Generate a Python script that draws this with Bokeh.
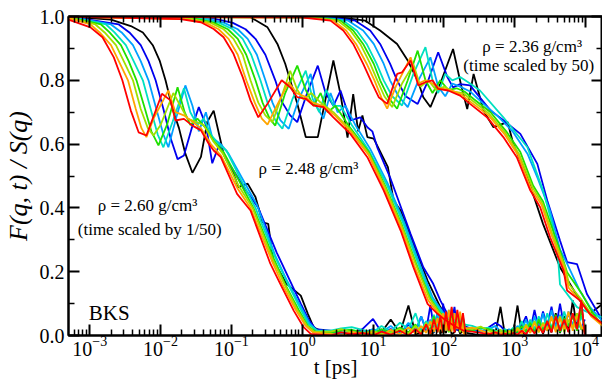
from bokeh.plotting import figure
from bokeh.models import LogAxis, LinearAxis, FixedTicker, Label, PrintfTickFormatter, CustomJSTickFormatter
from bokeh.embed import file_html
from bokeh.resources import INLINE

# ---------------- data: log10(t / ps) and F(q,t)/S(q) ----------------
colors = ["#000000", "#0000ee", "#00a0ff", "#00e0c0", "#20e000", "#a0e000", "#ffa500", "#ff0000"]

# rho = 2.60 g/cm3 (time scaled by 1/50)
g1_k_lgt = [-3.30, -2.70, -2.42, -2.25, -2.11, -2.01, -1.93, -1.83, -1.74, -1.65, -1.55, -1.43, -1.34, -1.25, -1.11, -0.97, -0.90, -0.77, -0.66, -0.56, -0.48, -0.41, -0.22, -0.02, 0.08, 0.16, 0.30]
g1_k_F = [1.000, 0.990, 0.970, 0.950, 0.910, 0.860, 0.800, 0.710, 0.650, 0.570, 0.510, 0.560, 0.670, 0.705, 0.569, 0.507, 0.465, 0.476, 0.434, 0.355, 0.350, 0.235, 0.162, 0.125, 0.068, 0.026, 0.010]
g1_b_lgt = [-3.30, -2.59, -2.44, -2.28, -2.17, -2.07, -1.96, -1.86, -1.76, -1.67, -1.56, -1.46, -1.36, -1.27, -1.17, -1.07, -0.95, -0.81, -0.62, -0.36, -0.19, -0.02, 0.09, 0.19]
g1_b_F = [1.0, 0.975, 0.95, 0.91, 0.86, 0.80, 0.71, 0.62, 0.553, 0.564, 0.65, 0.716, 0.66, 0.54, 0.60, 0.55, 0.51, 0.46, 0.40, 0.26, 0.18, 0.10, 0.05, 0.02]
g1_lb_lgt = [-3.30, -2.70, -2.55, -2.39, -2.28, -2.17, -2.06, -1.96, -1.89, -1.77, -1.65, -1.55, -1.46, -1.36, -1.27, -1.15, -1.04, -0.84, -0.64, -0.38, -0.21, -0.02, 0.10, 0.20]
g1_lb_F = [1.0, 0.975, 0.95, 0.91, 0.86, 0.80, 0.71, 0.63, 0.59, 0.69, 0.784, 0.72, 0.64, 0.70, 0.62, 0.60, 0.57, 0.49, 0.41, 0.25, 0.17, 0.09, 0.04, 0.015]
g1_tq_lgt = [-3.30, -2.77, -2.65, -2.49, -2.38, -2.25, -2.14, -2.04, -1.96, -1.83, -1.67, -1.58, -1.48, -1.39, -1.29, -1.18, -1.07, -0.87, -0.66, -0.39, -0.22, -0.04, 0.09, 0.22]
g1_tq_F = [0.999, 0.975, 0.95, 0.91, 0.86, 0.80, 0.71, 0.63, 0.59, 0.67, 0.775, 0.70, 0.66, 0.68, 0.63, 0.60, 0.58, 0.49, 0.40, 0.25, 0.17, 0.09, 0.035, 0.015]
g1_g_lgt = [-3.30, -2.84, -2.72, -2.56, -2.45, -2.34, -2.22, -2.13, -2.03, -1.91, -1.76, -1.66, -1.58, -1.48, -1.36, -1.25, -1.11, -0.88, -0.69, -0.40, -0.24, -0.05, 0.08, 0.20]
g1_g_F = [0.998, 0.975, 0.95, 0.91, 0.86, 0.80, 0.71, 0.64, 0.596, 0.66, 0.778, 0.70, 0.66, 0.68, 0.65, 0.61, 0.575, 0.48, 0.40, 0.24, 0.16, 0.08, 0.03, 0.01]
g1_yg_lgt = [-3.30, -2.92, -2.79, -2.63, -2.52, -2.39, -2.28, -2.18, -2.10, -2.00, -1.82, -1.72, -1.62, -1.50, -1.39, -1.26, -1.12, -0.90, -0.70, -0.42, -0.25, -0.07, 0.07, 0.17]
g1_yg_F = [0.997, 0.975, 0.95, 0.91, 0.86, 0.80, 0.71, 0.65, 0.627, 0.66, 0.76, 0.72, 0.68, 0.67, 0.66, 0.61, 0.57, 0.47, 0.40, 0.24, 0.16, 0.08, 0.03, 0.012]
g1_o_lgt = [-3.30, -2.99, -2.86, -2.70, -2.59, -2.46, -2.35, -2.27, -2.20, -2.10, -1.89, -1.79, -1.67, -1.55, -1.43, -1.29, -1.15, -0.91, -0.73, -0.43, -0.28, -0.09, 0.05, 0.15]
g1_o_F = [0.995, 0.975, 0.95, 0.91, 0.86, 0.80, 0.71, 0.65, 0.622, 0.68, 0.768, 0.70, 0.69, 0.67, 0.65, 0.60, 0.565, 0.46, 0.40, 0.235, 0.16, 0.08, 0.03, 0.01]
g1_r_lgt = [-3.30, -2.99, -2.82, -2.66, -2.54, -2.42, -2.31, -2.20, -1.98, -1.86, -1.79, -1.67, -1.55, -1.43, -1.32, -1.25, -1.15, -0.92, -0.73, -0.45, -0.31, -0.12, 0.02, 0.12]
g1_r_F = [0.990, 0.966, 0.935, 0.872, 0.800, 0.705, 0.637, 0.627, 0.758, 0.737, 0.674, 0.679, 0.658, 0.643, 0.601, 0.580, 0.559, 0.444, 0.392, 0.225, 0.162, 0.078, 0.026, 0.005]

g1_tail_lgt = [0.40, 0.55, 0.70, 0.85, 1.00, 1.12, 1.25, 1.38, 1.50, 1.60, 1.68, 1.75, 1.81, 1.86, 1.91, 1.95, 1.99, 2.03, 2.07, 2.11, 2.15, 2.19, 2.23, 2.27, 2.31]
g1_tail_k = [0.010, 0.004, 0.000, 0.006, 0.002, 0.010, 0.050, 0.008, 0.094, 0.004, 0.010, 0.030, 0.005, 0.010, 0.060, 0.005, 0.020, 0.008, 0.050, 0.004, 0.010, 0.030, 0.006, 0.015, 0.000]
g1_tail_b = [0.015, 0.010, 0.005, 0.020, 0.052, 0.010, 0.020, 0.005, 0.035, 0.010, 0.060, 0.015, 0.095, 0.020, 0.070, 0.030, 0.100, 0.020, 0.060, 0.040, 0.090, 0.015, 0.050, 0.025, 0.005]
g1_tail_lb = [0.010, 0.005, 0.015, 0.008, 0.020, 0.010, 0.030, 0.005, 0.040, 0.015, 0.060, 0.020, 0.050, 0.010, 0.075, 0.025, 0.065, 0.015, 0.080, 0.020, 0.070, 0.030, 0.060, 0.020, 0.005]
g1_tail_tq = [0.015, 0.022, 0.026, 0.018, 0.010, 0.030, 0.012, 0.040, 0.020, 0.070, 0.015, 0.045, 0.030, 0.065, 0.020, 0.080, 0.025, 0.060, 0.015, 0.085, 0.030, 0.050, 0.020, 0.060, 0.010]
g1_tail_g = [0.008, 0.015, 0.018, 0.010, 0.005, 0.020, 0.008, 0.025, 0.010, 0.035, 0.005, 0.030, 0.020, 0.060, 0.010, 0.045, 0.025, 0.050, 0.010, 0.070, 0.015, 0.040, 0.030, 0.055, 0.010]
g1_tail_yg = [0.012, 0.020, 0.010, 0.006, 0.015, 0.004, 0.010, 0.020, 0.006, 0.030, 0.010, 0.040, 0.005, 0.045, 0.015, 0.050, 0.008, 0.060, 0.012, 0.055, 0.020, 0.065, 0.010, 0.040, 0.005]
g1_tail_o = [0.005, 0.000, 0.012, 0.004, 0.010, 0.000, 0.018, 0.004, 0.025, 0.006, 0.030, 0.008, 0.045, 0.012, 0.055, 0.010, 0.070, 0.015, 0.080, 0.012, 0.070, 0.020, 0.075, 0.010, 0.000]
g1_tail_r = [0.000, 0.010, 0.004, 0.008, 0.000, 0.012, 0.003, 0.015, 0.000, 0.020, 0.004, 0.035, 0.006, 0.050, 0.010, 0.060, 0.008, 0.075, 0.015, 0.090, 0.010, 0.080, 0.020, 0.070, 0.000]

# rho = 2.48 g/cm3
g2_k_lgt = [-3.30, -0.73, -0.49, -0.35, -0.24, -0.17, -0.07, 0.05, 0.22, 0.44, 0.54, 0.64, 0.72, 0.79, 0.85, 0.92, 1.01, 1.21, 1.29, 1.39, 1.57, 1.77, 1.95, 2.05]
g2_k_F = [1.0, 0.998, 0.966, 0.914, 0.852, 0.80, 0.727, 0.622, 0.622, 0.862, 0.757, 0.62, 0.757, 0.64, 0.69, 0.622, 0.617, 0.528, 0.423, 0.392, 0.287, 0.172, 0.089, 0.057]
g2_b_lgt = [-3.30, -1.29, -0.98, -0.80, -0.66, -0.52, -0.38, -0.28, -0.17, -0.07, 0.07, 0.22, 0.33, 0.44, 0.54, 0.68, 0.82, 0.92, 0.99, 1.06, 1.24, 1.53, 1.71, 1.85, 1.95, 2.05]
g2_b_F = [1.0, 0.996, 0.98, 0.96, 0.93, 0.88, 0.80, 0.73, 0.69, 0.669, 0.76, 0.846, 0.76, 0.72, 0.768, 0.674, 0.684, 0.653, 0.64, 0.59, 0.496, 0.319, 0.214, 0.162, 0.11, 0.068]
g2_lb_lgt = [-3.30, -1.39, -1.10, -0.91, -0.77, -0.64, -0.52, -0.42, -0.31, -0.19, -0.05, 0.12, 0.20, 0.30, 0.40, 0.50, 0.61, 0.75, 0.96, 1.20, 1.44, 1.64, 1.84, 1.98, 2.08]
g2_lb_F = [1.0, 0.996, 0.98, 0.96, 0.93, 0.88, 0.80, 0.73, 0.675, 0.648, 0.74, 0.82, 0.72, 0.68, 0.76, 0.70, 0.72, 0.66, 0.585, 0.48, 0.355, 0.235, 0.12, 0.075, 0.05]
g2_tq_lgt = [-3.30, -1.46, -1.17, -0.98, -0.84, -0.72, -0.59, -0.49, -0.38, -0.28, -0.14, 0.05, 0.15, 0.24, 0.34, 0.44, 0.54, 0.70, 0.94, 1.19, 1.43, 1.63, 1.82, 1.96, 2.06]
g2_tq_F = [1.0, 0.995, 0.98, 0.96, 0.93, 0.88, 0.80, 0.73, 0.675, 0.648, 0.74, 0.83, 0.74, 0.70, 0.77, 0.72, 0.72, 0.66, 0.58, 0.475, 0.35, 0.23, 0.12, 0.075, 0.05]
g2_g_lgt = [-3.30, -1.53, -1.24, -1.05, -0.91, -0.79, -0.66, -0.56, -0.46, -0.38, -0.24, -0.07, 0.05, 0.16, 0.26, 0.36, 0.47, 0.68, 0.94, 1.17, 1.41, 1.61, 1.81, 1.95, 2.05]
g2_g_F = [1.0, 0.994, 0.98, 0.96, 0.93, 0.88, 0.80, 0.73, 0.68, 0.658, 0.76, 0.846, 0.77, 0.72, 0.76, 0.70, 0.72, 0.65, 0.575, 0.47, 0.345, 0.225, 0.115, 0.07, 0.05]
g2_yg_lgt = [-3.30, -1.58, -1.29, -1.11, -0.97, -0.84, -0.73, -0.62, -0.52, -0.42, -0.29, -0.17, -0.07, 0.02, 0.13, 0.26, 0.44, 0.68, 0.94, 1.17, 1.41, 1.60, 1.80, 1.94, 2.04]
g2_yg_F = [1.0, 0.993, 0.98, 0.96, 0.93, 0.88, 0.80, 0.73, 0.69, 0.669, 0.75, 0.83, 0.77, 0.74, 0.76, 0.73, 0.70, 0.645, 0.57, 0.465, 0.34, 0.225, 0.115, 0.07, 0.05]
g2_o_lgt = [-3.30, -1.65, -1.36, -1.18, -1.04, -0.91, -0.79, -0.67, -0.57, -0.49, -0.36, -0.19, -0.08, 0.03, 0.15, 0.29, 0.46, 0.70, 0.94, 1.16, 1.40, 1.58, 1.78, 1.92, 2.02]
g2_o_F = [1.0, 0.992, 0.98, 0.96, 0.93, 0.88, 0.80, 0.73, 0.68, 0.661, 0.72, 0.794, 0.76, 0.75, 0.73, 0.72, 0.69, 0.635, 0.565, 0.46, 0.335, 0.22, 0.11, 0.07, 0.05]
g2_r_lgt = [-3.30, -1.72, -1.43, -1.25, -1.11, -0.97, -0.84, -0.73, -0.62, -0.48, -0.29, -0.17, -0.07, 0.05, 0.16, 0.30, 0.44, 0.68, 0.92, 1.15, 1.39, 1.57, 1.77, 1.91, 2.00]
g2_r_F = [1.0, 0.992, 0.982, 0.961, 0.935, 0.883, 0.81, 0.737, 0.684, 0.73, 0.80, 0.778, 0.747, 0.742, 0.721, 0.716, 0.684, 0.632, 0.559, 0.455, 0.329, 0.214, 0.099, 0.068, 0.052]

g2_tail_lgt = [2.15, 2.28, 2.40, 2.52, 2.63, 2.73, 2.80, 2.86, 2.92, 2.98, 3.04, 3.10, 3.16, 3.22, 3.28, 3.34, 3.40, 3.46, 3.52, 3.58, 3.64, 3.70, 3.76, 3.82, 3.88, 3.94, 3.99]
g2_tail_k = [0.045, 0.010, 0.005, 0.000, 0.002, 0.010, 0.090, 0.005, 0.000, 0.010, 0.094, 0.008, 0.004, 0.030, 0.010, 0.050, 0.005, 0.040, 0.010, 0.070, 0.008, 0.060, 0.012, 0.110, 0.020, 0.100, 0.010]
g2_tail_b = [0.050, 0.030, 0.020, 0.010, 0.025, 0.040, 0.030, 0.015, 0.005, 0.015, 0.010, 0.030, 0.060, 0.015, 0.080, 0.020, 0.075, 0.030, 0.090, 0.020, 0.100, 0.025, 0.070, 0.030, 0.060, 0.020, 0.050]
g2_tail_lb = [0.040, 0.025, 0.015, 0.010, 0.020, 0.030, 0.012, 0.008, 0.020, 0.010, 0.030, 0.015, 0.050, 0.010, 0.060, 0.020, 0.070, 0.015, 0.080, 0.025, 0.065, 0.020, 0.075, 0.030, 0.050, 0.020, 0.040]
g2_tail_tq = [0.045, 0.035, 0.030, 0.020, 0.025, 0.015, 0.010, 0.020, 0.012, 0.025, 0.015, 0.045, 0.010, 0.050, 0.020, 0.060, 0.015, 0.070, 0.025, 0.055, 0.020, 0.075, 0.030, 0.065, 0.020, 0.060, 0.030]
g2_tail_g = [0.040, 0.020, 0.015, 0.025, 0.020, 0.012, 0.008, 0.015, 0.005, 0.020, 0.010, 0.030, 0.012, 0.040, 0.008, 0.050, 0.015, 0.045, 0.020, 0.065, 0.010, 0.055, 0.030, 0.060, 0.015, 0.080, 0.020]
g2_tail_yg = [0.030, 0.025, 0.020, 0.028, 0.015, 0.010, 0.018, 0.006, 0.015, 0.010, 0.025, 0.008, 0.035, 0.012, 0.045, 0.010, 0.040, 0.020, 0.055, 0.015, 0.060, 0.010, 0.050, 0.025, 0.070, 0.020, 0.015]
g2_tail_o = [0.035, 0.020, 0.025, 0.015, 0.008, 0.005, 0.010, 0.004, 0.012, 0.006, 0.020, 0.005, 0.030, 0.008, 0.040, 0.012, 0.035, 0.015, 0.060, 0.010, 0.055, 0.020, 0.075, 0.015, 0.060, 0.030, 0.010]
g2_tail_r = [0.030, 0.015, 0.012, 0.008, 0.004, 0.010, 0.002, 0.006, 0.000, 0.008, 0.003, 0.015, 0.004, 0.025, 0.006, 0.030, 0.008, 0.045, 0.010, 0.060, 0.015, 0.050, 0.010, 0.070, 0.020, 0.110, 0.000]

# rho = 2.36 g/cm3 (time scaled by 50)
g3_k_lgt = [-3.30, 0.54, 0.89, 1.10, 1.34, 1.49, 1.63, 1.71, 1.81, 1.95, 2.13, 2.25, 2.33, 2.42, 2.56, 2.70, 2.90, 2.98, 3.18, 3.40, 3.64, 3.92, 4.06, 4.24]
g3_k_F = [1.0, 0.997, 0.987, 0.956, 0.914, 0.862, 0.80, 0.747, 0.716, 0.79, 0.898, 0.778, 0.710, 0.82, 0.705, 0.653, 0.669, 0.601, 0.496, 0.35, 0.214, 0.11, 0.068, 0.099]
g3_b_lgt = [-3.30, 0.40, 0.75, 0.96, 1.10, 1.24, 1.34, 1.46, 1.63, 1.78, 1.92, 2.05, 2.13, 2.23, 2.37, 2.66, 2.87, 3.08, 3.32, 3.46, 3.64, 3.74, 3.88, 4.02, 4.24]
g3_b_F = [1.0, 0.997, 0.987, 0.956, 0.914, 0.852, 0.80, 0.75, 0.726, 0.80, 0.888, 0.81, 0.778, 0.788, 0.784, 0.705, 0.67, 0.632, 0.538, 0.423, 0.298, 0.23, 0.224, 0.13, 0.047]
g3_lb_lgt = [-3.30, 0.30, 0.65, 0.86, 1.01, 1.15, 1.24, 1.36, 1.49, 1.64, 1.81, 1.92, 2.02, 2.12, 2.23, 2.37, 2.54, 2.75, 2.97, 3.18, 3.33, 3.50, 3.64, 3.73, 3.92, 4.06, 4.24]
g3_lb_F = [1.0, 0.997, 0.987, 0.956, 0.914, 0.852, 0.80, 0.75, 0.716, 0.80, 0.872, 0.78, 0.75, 0.79, 0.78, 0.765, 0.73, 0.69, 0.64, 0.57, 0.49, 0.39, 0.27, 0.23, 0.14, 0.09, 0.045]
g3_tq_lgt = [-3.30, 0.23, 0.58, 0.77, 0.91, 1.05, 1.15, 1.27, 1.41, 1.57, 1.74, 1.84, 1.92, 2.02, 2.12, 2.23, 2.37, 2.51, 2.84, 3.18, 3.40, 3.53, 3.61, 3.64, 3.88, 4.06, 4.24]
g3_tq_F = [1.0, 0.997, 0.987, 0.956, 0.914, 0.852, 0.80, 0.75, 0.721, 0.82, 0.904, 0.80, 0.76, 0.82, 0.80, 0.81, 0.79, 0.768, 0.684, 0.59, 0.455, 0.35, 0.25, 0.16, 0.089, 0.07, 0.057]
g3_g_lgt = [-3.30, 0.19, 0.54, 0.72, 0.86, 1.01, 1.10, 1.22, 1.34, 1.49, 1.63, 1.74, 1.84, 1.95, 2.06, 2.18, 2.29, 2.43, 2.66, 2.88, 3.08, 3.26, 3.40, 3.54, 3.68, 3.74, 3.95, 4.09, 4.24]
g3_g_F = [1.0, 0.997, 0.987, 0.956, 0.914, 0.852, 0.80, 0.745, 0.711, 0.80, 0.893, 0.80, 0.76, 0.80, 0.77, 0.775, 0.765, 0.74, 0.70, 0.64, 0.575, 0.47, 0.42, 0.33, 0.24, 0.198, 0.13, 0.075, 0.03]
g3_yg_lgt = [-3.30, 0.12, 0.50, 0.68, 0.82, 0.96, 1.06, 1.16, 1.27, 1.41, 1.57, 1.67, 1.78, 1.89, 2.01, 2.12, 2.27, 2.41, 2.64, 2.87, 3.06, 3.25, 3.39, 3.53, 3.71, 3.77, 3.95, 4.09, 4.24]
g3_yg_F = [1.0, 0.997, 0.987, 0.956, 0.914, 0.852, 0.80, 0.75, 0.716, 0.79, 0.85, 0.78, 0.80, 0.77, 0.78, 0.765, 0.76, 0.735, 0.695, 0.635, 0.57, 0.465, 0.415, 0.32, 0.215, 0.16, 0.11, 0.065, 0.035]
g3_o_lgt = [-3.30, 0.05, 0.44, 0.62, 0.76, 0.91, 1.02, 1.12, 1.20, 1.32, 1.53, 1.64, 1.74, 1.84, 1.95, 2.09, 2.25, 2.39, 2.63, 2.86, 3.05, 3.23, 3.38, 3.52, 3.70, 3.76, 3.94, 4.08, 4.24]
g3_o_F = [1.0, 0.997, 0.987, 0.956, 0.914, 0.852, 0.80, 0.745, 0.711, 0.78, 0.872, 0.79, 0.80, 0.79, 0.775, 0.77, 0.755, 0.73, 0.69, 0.63, 0.565, 0.46, 0.41, 0.315, 0.21, 0.15, 0.105, 0.06, 0.03]
g3_r_lgt = [-3.30, -0.02, 0.40, 0.58, 0.72, 0.86, 0.99, 1.08, 1.20, 1.34, 1.41, 1.53, 1.64, 1.74, 1.84, 1.92, 2.06, 2.23, 2.37, 2.61, 2.84, 3.03, 3.22, 3.36, 3.50, 3.69, 3.74, 3.92, 4.06, 4.24]
g3_r_F = [1.0, 0.997, 0.987, 0.956, 0.914, 0.852, 0.789, 0.747, 0.726, 0.82, 0.825, 0.862, 0.784, 0.794, 0.80, 0.773, 0.768, 0.752, 0.726, 0.684, 0.622, 0.559, 0.455, 0.402, 0.308, 0.204, 0.141, 0.11, 0.068, 0.037]

x_major_exp = [-3, -2, -1, 0, 1, 2, 3, 4]
y_major = [0.0, 0.2, 0.4, 0.6, 0.8, 1.0]
y_minor = [0.1, 0.3, 0.5, 0.7, 0.9]
lgt_min, lgt_max = -3.30, 4.24

# ---------------- figure ----------------
FONT = "Liberation Serif"
p = figure(width=602, height=385, x_axis_type="log",
           x_range=(10 ** lgt_min, 10 ** lgt_max), y_range=(0.0, 1.0),
           output_backend="svg", toolbar_location=None,
           min_border_left=68, min_border_right=0, min_border_top=16, min_border_bottom=50)
p.background_fill_color = "white"
p.border_fill_color = "white"
p.outline_line_color = "black"
p.outline_line_width = 2
p.xgrid.visible = False
p.ygrid.visible = False

x_ticks = [10.0 ** e for e in x_major_exp]
x_minor = [m * 10.0 ** e for e in range(-4, 5) for m in range(2, 10)]
xt = FixedTicker(ticks=x_ticks, minor_ticks=x_minor)
yt = FixedTicker(ticks=y_major, minor_ticks=y_minor)


def style_axis(ax, labels=True):
    ax.major_tick_in = 11
    ax.major_tick_out = 0
    ax.minor_tick_in = 6
    ax.minor_tick_out = 0
    ax.major_tick_line_width = 2
    ax.minor_tick_line_width = 1.5
    ax.axis_line_width = 2
    ax.major_label_text_font = FONT
    ax.major_label_text_font_size = "20px"
    ax.major_label_text_color = "black"
    if not labels:
        ax.major_label_text_font_size = "0px"
        ax.major_label_standoff = 0
        ax.formatter = CustomJSTickFormatter(code="return ''")


xa = p.xaxis[0]
xa.ticker = xt
style_axis(xa)
xa.major_label_standoff = 0
xa.axis_label = "t [ps]"
xa.axis_label_text_font = FONT
xa.axis_label_text_font_size = "21px"
xa.axis_label_text_font_style = "normal"
xa.axis_label_text_color = "black"
xa.axis_label_standoff = -4

ya = p.yaxis[0]
ya.ticker = yt
ya.formatter = PrintfTickFormatter(format="%.1f")
style_axis(ya)
ya.major_label_standoff = 4
ya.axis_label = "F(q, t) / S(q)"
ya.axis_label_text_font = FONT
ya.axis_label_text_font_size = "26px"
ya.axis_label_text_font_style = "italic"
ya.axis_label_text_color = "black"
ya.axis_label_standoff = 4

top = LogAxis(ticker=xt)
style_axis(top, labels=False)
p.add_layout(top, "above")
right = LinearAxis(ticker=yt)
style_axis(right, labels=False)
p.add_layout(right, "right")

# ---------------- curves ----------------
groups = [
    [(g1_k_lgt + g1_tail_lgt, g1_k_F + g1_tail_k), (g1_b_lgt + g1_tail_lgt, g1_b_F + g1_tail_b),
     (g1_lb_lgt + g1_tail_lgt, g1_lb_F + g1_tail_lb), (g1_tq_lgt + g1_tail_lgt, g1_tq_F + g1_tail_tq),
     (g1_g_lgt + g1_tail_lgt, g1_g_F + g1_tail_g), (g1_yg_lgt + g1_tail_lgt, g1_yg_F + g1_tail_yg),
     (g1_o_lgt + g1_tail_lgt, g1_o_F + g1_tail_o), (g1_r_lgt + g1_tail_lgt, g1_r_F + g1_tail_r)],
    [(g2_k_lgt + g2_tail_lgt, g2_k_F + g2_tail_k), (g2_b_lgt + g2_tail_lgt, g2_b_F + g2_tail_b),
     (g2_lb_lgt + g2_tail_lgt, g2_lb_F + g2_tail_lb), (g2_tq_lgt + g2_tail_lgt, g2_tq_F + g2_tail_tq),
     (g2_g_lgt + g2_tail_lgt, g2_g_F + g2_tail_g), (g2_yg_lgt + g2_tail_lgt, g2_yg_F + g2_tail_yg),
     (g2_o_lgt + g2_tail_lgt, g2_o_F + g2_tail_o), (g2_r_lgt + g2_tail_lgt, g2_r_F + g2_tail_r)],
    [(g3_k_lgt, g3_k_F), (g3_b_lgt, g3_b_F), (g3_lb_lgt, g3_lb_F), (g3_tq_lgt, g3_tq_F),
     (g3_g_lgt, g3_g_F), (g3_yg_lgt, g3_yg_F), (g3_o_lgt, g3_o_F), (g3_r_lgt, g3_r_F)],
]

for ci, col in enumerate(colors):
    for grp in groups:
        lg, F = grp[ci]
        n = min(len(lg), len(F))
        p.line([10.0 ** v for v in lg[:n]], F[:n], line_color=col, line_width=1.8)

# ---------------- annotations ----------------
def add_text(lg, f, txt, size="17px", style="normal"):
    p.add_layout(Label(x=10.0 ** lg, y=f, text=txt, text_font=FONT, text_font_size=size,
                       text_font_style=style, text_color="black",
                       text_align="left", text_baseline="alphabetic"))


add_text(-2.887, 0.408, "ρ = 2.60 g/cm³")
add_text(-3.169, 0.332, "(time scaled by 1/50)")
add_text(-0.616, 0.524, "ρ = 2.48 g/cm³")
add_text(2.543, 0.906, "ρ = 2.36 g/cm³")
add_text(2.275, 0.846, "(time scaled by 50)")
add_text(-3.014, 0.069, "BKS", size="21px")

open("out.html", "w").write(file_html(p, INLINE))
